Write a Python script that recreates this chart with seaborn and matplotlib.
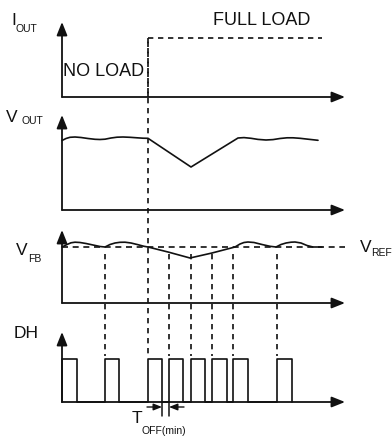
import numpy as np
import pandas as pd
import matplotlib
matplotlib.use("Agg")
import matplotlib.pyplot as plt
import seaborn as sns

# time axis: t = 0 at the y axes, units ~ pixels
load_step_t = 86
load_end_t = 260
full_load_level = 59

vout_t = [0, 4, 8, 13, 19, 26, 33, 38, 43, 49, 55, 61, 68, 75, 81, 86,
          129, 176, 182, 189, 196, 204, 211, 218, 225, 231, 238, 246, 256]
vout_v = [69.5, 71.5, 72.7, 73, 72.5, 71.5, 70.7, 70.5, 70.8, 72, 72.8, 73, 72.7, 72.2, 71.8, 71.7,
          43, 72, 72.4, 71.7, 70.6, 70, 70.4, 71.5, 72.2, 72.2, 71.7, 70.8, 69.7]

vfb_t = [0, 5, 9, 13, 18, 24, 31, 38, 43, 48, 53, 58, 63, 69, 76, 82, 86,
         106, 128, 150, 173, 178, 182, 186, 192, 200, 208, 214, 219, 224, 229, 233, 239, 245, 251, 260]
vfb_v = [56, 58.5, 60.2, 60.8, 60.5, 59.5, 58, 56.5, 56, 58.5, 60, 60.7, 60.8, 60, 58.3, 56.7, 56,
         51, 45, 50, 56, 59, 60.5, 61, 60.5, 58.5, 56.7, 56, 58.5, 60, 60.8, 61, 60, 57.5, 56, 56]
vref_level = 56
vref_end_t = 283

dh_rise = [0, 43, 86, 107, 129, 150, 171, 215]
dh_width = [15, 14, 14, 14, 14, 15, 15, 15]
dh_high = 43
toff_left, toff_right = 100, 107

# layout (pixels)
X0 = 62
AX_END = 345
panels = {"I": (97, 22), "V": (210, 115), "FB": (303, 230), "DH": (402, 332)}

sns.set_style("white")
plt.rcParams["font.family"] = ["Liberation Sans", "DejaVu Sans"]
INK = "#111111"

fig = plt.figure(figsize=(3.92, 4.36), dpi=100)
ax = fig.add_axes([0, 0, 1, 1])
ax.set_xlim(0, 392)
ax.set_ylim(436, 0)
ax.axis("off")

arrow = dict(arrowstyle="-|>,head_length=0.8,head_width=0.32", color=INK, lw=1.3,
             mutation_scale=10, shrinkA=0, shrinkB=0)
for base, top in panels.values():
    ax.annotate("", xy=(X0, top), xytext=(X0, base), arrowprops=arrow)
    ax.annotate("", xy=(AX_END, base), xytext=(X0, base), arrowprops=arrow)

dash = dict(color=INK, lw=1.2, dashes=(3.2, 2.8))

# I_OUT load step
b = panels["I"][0]
ax.plot([X0 + load_step_t, X0 + load_step_t], [b, b - full_load_level], **dash)
ax.plot([X0 + load_step_t, X0 + load_end_t], [b - full_load_level] * 2, **dash)

# V_OUT
b = panels["V"][0]
df = pd.DataFrame({"x": X0 + np.array(vout_t), "y": b - np.array(vout_v)})
sns.lineplot(data=df, x="x", y="y", sort=False, estimator=None, color=INK, lw=1.2, ax=ax)

# V_FB and V_REF
b = panels["FB"][0]
ax.plot([X0, AX_END], [b - vref_level] * 2, color=INK, lw=1.2, dashes=(3.6, 2.8))
df = pd.DataFrame({"x": X0 + np.array(vfb_t), "y": b - np.array(vfb_v)})
sns.lineplot(data=df, x="x", y="y", sort=False, estimator=None, color=INK, lw=1.2, ax=ax)

# DH pulses
b = panels["DH"][0]
px, py = [], []
for r, w in zip(dh_rise, dh_width):
    px += [r, r, r + w, r + w]
    py += [0, dh_high, dh_high, 0]
df = pd.DataFrame({"x": X0 + np.array(px), "y": b - np.array(py)})
sns.lineplot(data=df, x="x", y="y", sort=False, estimator=None, color=INK, lw=1.2, ax=ax)

# vertical guide lines from V_FB valleys to DH rising edges
for r in dh_rise[1:]:
    top = panels["I"][0] - full_load_level if r == load_step_t else 254
    ax.plot([X0 + r, X0 + r], [top, b - dh_high - 3], **dash)

# T_OFF(min) marker
for t in (toff_left, toff_right):
    ax.plot([X0 + t, X0 + t], [b, b + 14], color=INK, lw=1.1)
small = dict(arrowstyle="-|>,head_length=0.5,head_width=0.2", color=INK, lw=1.0,
             mutation_scale=10, shrinkA=0, shrinkB=0)
ax.annotate("", xy=(X0 + toff_left, b + 5), xytext=(X0 + toff_left - 15, b + 5), arrowprops=small)
ax.annotate("", xy=(X0 + toff_right, b + 5), xytext=(X0 + toff_right + 15, b + 5), arrowprops=small)

# labels
big, sub = 12.5, 7.5
def label(x, y, main, subtxt, sx, sy):
    ax.text(x, y, main, fontsize=big, color=INK, va="baseline", ha="left")
    ax.text(sx, sy, subtxt, fontsize=sub, color=INK, va="baseline", ha="left")

label(11, 25, "I", "OUT", 16, 32)
label(6, 122, "V", "OUT", 22, 124)
label(16, 255, "V", "FB", 28, 262)
label(360, 252, "V", "REF", 371, 256)
label(132, 423, "T", "OFF(min)", 142, 434)
ax.text(14, 338, "DH", fontsize=big, color=INK, va="baseline", ha="left")
ax.text(213, 25, "FULL LOAD", fontsize=13, color=INK, va="baseline", ha="left")
ax.text(63, 76, "NO LOAD", fontsize=13, color=INK, va="baseline", ha="left")

fig.savefig("out.png", dpi=100)
